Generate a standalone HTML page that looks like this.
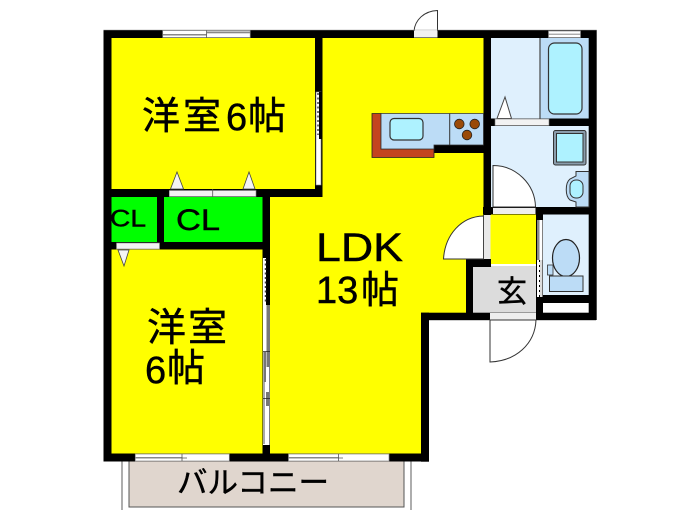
<!DOCTYPE html>
<html><head><meta charset="utf-8"><style>
html,body{margin:0;padding:0;background:#fff;width:700px;height:525px;overflow:hidden}
svg{display:block;filter:blur(.35px)}
text{font-family:"Liberation Sans","Noto Sans CJK JP",sans-serif;fill:#000;stroke:#000;stroke-width:.45px}
</style></head><body>
<svg width="700" height="525" viewBox="0 0 700 525" xmlns="http://www.w3.org/2000/svg">
<rect width="700" height="525" fill="#fff"/>
<!-- balcony -->
<rect x="122" y="458" width="289" height="60" fill="#fff"/>
<path d="M122 461V510M411 461V510" stroke="#777" stroke-width="1.2" fill="none"/>
<rect x="129" y="461" width="275" height="46" fill="#e0d6ce" stroke="#555" stroke-width="1"/>
<!-- yellow rooms -->
<rect x="111" y="38" width="205" height="152" fill="#ff0"/>
<rect x="111" y="249" width="152" height="205" fill="#ff0"/>
<path d="M322 38H484V260H466V313H421V454H270V196H322Z" fill="#ff0"/>
<rect x="490" y="214" width="46" height="50" fill="#ff0"/>
<!-- CL -->
<rect x="111" y="197" width="46" height="45" fill="#0f0"/>
<rect x="164" y="197" width="99" height="45" fill="#0f0"/>
<!-- wet rooms -->
<rect x="490" y="38" width="50" height="81" fill="#dff0fd"/>
<rect x="540" y="38" width="49" height="81" fill="#bcdcf6"/>
<rect x="490" y="126" width="99" height="82" fill="#dff0fd"/>
<rect x="543" y="214" width="46" height="82" fill="#dff0fd"/>
<rect x="543" y="303" width="46" height="10" fill="#fff"/>
<!-- genkan -->
<rect x="473" y="266" width="63" height="47" fill="#dcdcdc"/>
<!-- walls -->
<g fill="#000">
<rect x="103.500" y="30" width="493" height="8"/>
<rect x="103.500" y="30" width="8" height="431"/>
<rect x="103.500" y="453.500" width="325" height="8"/>
<rect x="315" y="30" width="7.500" height="167"/>
<rect x="103.500" y="189" width="219" height="8"/>
<rect x="157" y="189" width="7" height="60"/>
<rect x="103.500" y="242" width="166" height="7.500"/>
<rect x="262.500" y="189" width="7.500" height="272"/>
<rect x="483.500" y="30" width="7.500" height="185"/>
<rect x="483" y="118.500" width="106" height="7.500"/>
<rect x="588.700" y="30" width="8" height="290"/>
<rect x="483" y="207" width="113" height="7.500"/>
<rect x="421" y="312.700" width="175" height="7.500"/>
<rect x="421" y="312.700" width="8" height="149"/>
<rect x="466" y="259" width="7" height="60"/>
<rect x="466" y="259" width="25" height="8"/>
<rect x="536" y="207" width="7" height="113"/>
<rect x="536" y="295" width="60" height="8"/>
<rect x="434" y="145" width="50" height="8"/>
</g>
<!-- kitchen -->
<path d="M372 113.500H381V149H434V157.500H372Z" fill="#c4441f" stroke="#222" stroke-width=".8"/>
<path d="M381 113.500H483.500V145H434V149H381Z" fill="#bcdcf6" stroke="#333" stroke-width=".8"/>
<path d="M449.700 113.500V145" stroke="#333" stroke-width="1"/>
<rect x="390" y="118.500" width="33" height="21.500" rx="4" fill="#aef2ff" stroke="#333" stroke-width="1.200"/>
<g fill="#9a4a08" stroke="#222" stroke-width=".8">
<circle cx="459.300" cy="124" r="4.800"/><circle cx="474.700" cy="124" r="4.800"/><circle cx="467" cy="135" r="4.800"/>
</g>
<!-- bath -->
<path d="M540 38V118.500" stroke="#444" stroke-width="1.200"/>
<rect x="548.500" y="43" width="33.500" height="71" rx="6" fill="#aef2ff" stroke="#333" stroke-width="1.200"/>
<path d="M505 97L497 118.500H511.500Z" fill="#fff" stroke="#444" stroke-width="1"/>
<rect x="495" y="119" width="54" height="6.500" fill="#f2f2f2" stroke="#777" stroke-width=".6"/>
<!-- washer -->
<rect x="553.500" y="130.500" width="32.500" height="34.500" rx="2" fill="#8a9cab" stroke="#333" stroke-width="1"/>
<rect x="556.500" y="133.500" width="26.500" height="28.500" fill="#aef2ff" stroke="#333" stroke-width="1"/>
<!-- basin -->
<path d="M589 171.500H576V176L570 179C565 183 565 196 570 200L576 202V207H589Z" fill="#bcdcf6" stroke="#333" stroke-width="1"/>
<rect x="570" y="180" width="13" height="18" rx="6" fill="#aef2ff" stroke="#333" stroke-width="1"/>
<!-- wash door -->
<path d="M493 207V165.500C516 165.500 535 184 535.500 207Z" fill="#fff" stroke="#333" stroke-width="1"/>
<rect x="493" y="208" width="42.500" height="6" fill="#eee"/>
<!-- toilet -->
<ellipse cx="566" cy="258" rx="13.500" ry="18.500" fill="#bcdcf6" stroke="#222" stroke-width="1.200"/>
<rect x="547.500" y="265" width="5.500" height="10" fill="#bcdcf6" stroke="#333" stroke-width=".8"/>
<rect x="549.500" y="276" width="33.500" height="15.500" fill="#bcdcf6" stroke="#333" stroke-width="1"/>
<!-- toilet sliding door -->
<rect x="537" y="220" width="5.500" height="77" fill="#fff"/>
<rect x="537" y="220" width="2.500" height="40" fill="#888"/>
<rect x="539.500" y="260" width="3" height="37" fill="#ddd"/>
<path d="M539.500 260V297" stroke="#000" stroke-width="1" stroke-dasharray="2 3"/>
<!-- LDK door -->
<path d="M483.500 259H443.500C445 235 461 216.500 483.500 216Z" fill="#fff" stroke="#333" stroke-width="1"/>
<rect x="483.500" y="215" width="7" height="44" fill="#e8e8e8"/>
<path d="M483.500 215V259" stroke="#444" stroke-width="1"/>
<!-- entry door -->
<rect x="490" y="313" width="46" height="7" fill="#eee"/>
<path d="M490 320H536C535 344 516 361 490 362Z" fill="#fff" stroke="#333" stroke-width="1"/>
<!-- top door -->
<rect x="414" y="31" width="23.500" height="6.500" fill="#f2f2f2"/>
<path d="M414 31C415 20 424 11 437.500 10.500V31" fill="#fff" stroke="#333" stroke-width="1"/>
<!-- windows -->
<g>
<rect x="162.700" y="30.500" width="87.500" height="7" fill="#fff" stroke="#888" stroke-width=".7"/>
<rect x="162.700" y="34" width="44" height="1.500" fill="#888"/>
<rect x="207" y="31.500" width="43" height="1.800" fill="#888"/>
<path d="M206.500 30.500V37.500" stroke="#555" stroke-width=".8"/>
<rect x="548.500" y="31" width="32" height="6.500" fill="#fff" stroke="#888" stroke-width=".7"/>
<rect x="548.500" y="33.700" width="32" height="1" fill="#888"/>
<rect x="135.300" y="454" width="94" height="7" fill="#fff" stroke="#888" stroke-width=".7"/>
<rect x="135.300" y="457" width="47" height="1.500" fill="#888"/>
<path d="M182 454V461M182 458H187" stroke="#555" stroke-width=".8"/>
<rect x="288.500" y="454" width="100.500" height="7" fill="#fff" stroke="#888" stroke-width=".7"/>
<rect x="288.500" y="457" width="50" height="1.500" fill="#888"/>
<path d="M338.500 454V461M338.500 458H343" stroke="#555" stroke-width=".8"/>
</g>
<!-- west bedroom right wall sliding door -->
<rect x="316" y="92" width="5" height="93" fill="#fff" stroke="#888" stroke-width=".6"/>
<rect x="319" y="92" width="3.500" height="47" fill="#000"/>
<path d="M318 93V135" stroke="#444" stroke-width="1.500" stroke-dasharray="2 2.500"/>
<!-- closet doors -->
<rect x="169.300" y="190.500" width="86.700" height="6" fill="#f2f2f2" stroke="#888" stroke-width=".6"/>
<path d="M212.700 189V197" stroke="#555" stroke-width=".8"/>
<path d="M177 172L170.500 189H183.500Z M249 172L243 189H255Z" fill="#f4f4f4" stroke="#444" stroke-width=".8"/>
<rect x="116.500" y="243" width="43" height="6" fill="#f2f2f2" stroke="#888" stroke-width=".6"/>
<path d="M118 250H129L124 266Z" fill="#f4f4f4" stroke="#444" stroke-width=".8"/>
<!-- long sliding door -->
<rect x="263" y="258" width="6.500" height="187" fill="#fff"/>
<rect x="266" y="258" width="4" height="47" fill="#000"/>
<path d="M265.500 259V303" stroke="#444" stroke-width="1.500" stroke-dasharray="2 2.500"/>
<rect x="266.500" y="305" width="3.500" height="62" fill="#777"/>
<rect x="263" y="352" width="2" height="92" fill="#aaa"/>
<rect x="264" y="352" width="2" height="30" fill="#777"/>
<rect x="266" y="392" width="3" height="14" fill="#777"/>
<path d="M262.500 351.500H270M262.500 398.500H270" stroke="#222" stroke-width=".8"/>
<!-- thin grey outline -->
<path d="M103.500 30H596.700" stroke="#999" stroke-width=".6" fill="none"/>
<!-- labels -->
<g>
<text x="142" y="129" font-size="38">洋</text>
<text x="183" y="129" font-size="38">室</text>
<text x="226" y="130" font-size="38">6</text>
<text x="248" y="129" font-size="38">帖</text>
<text x="147" y="341" font-size="39">洋</text>
<text x="188" y="341" font-size="39">室</text>
<text x="145" y="383" font-size="38">6</text>
<text x="167" y="381" font-size="38">帖</text>
<text x="316" y="261" font-size="40" textLength="87" lengthAdjust="spacingAndGlyphs">LDK</text>
<text x="316" y="303" font-size="38">13</text>
<text x="361" y="303" font-size="38">帖</text>
</g>
<text x="110" y="226.500" font-size="24" textLength="36" lengthAdjust="spacingAndGlyphs">CL</text>
<text x="176" y="230" font-size="30" textLength="44" lengthAdjust="spacingAndGlyphs">CL</text>
<text x="497" y="302" font-size="30">玄</text>
<text x="177" y="493" font-size="30" textLength="152" lengthAdjust="spacingAndGlyphs">バルコニー</text>
</svg>
</body></html>
